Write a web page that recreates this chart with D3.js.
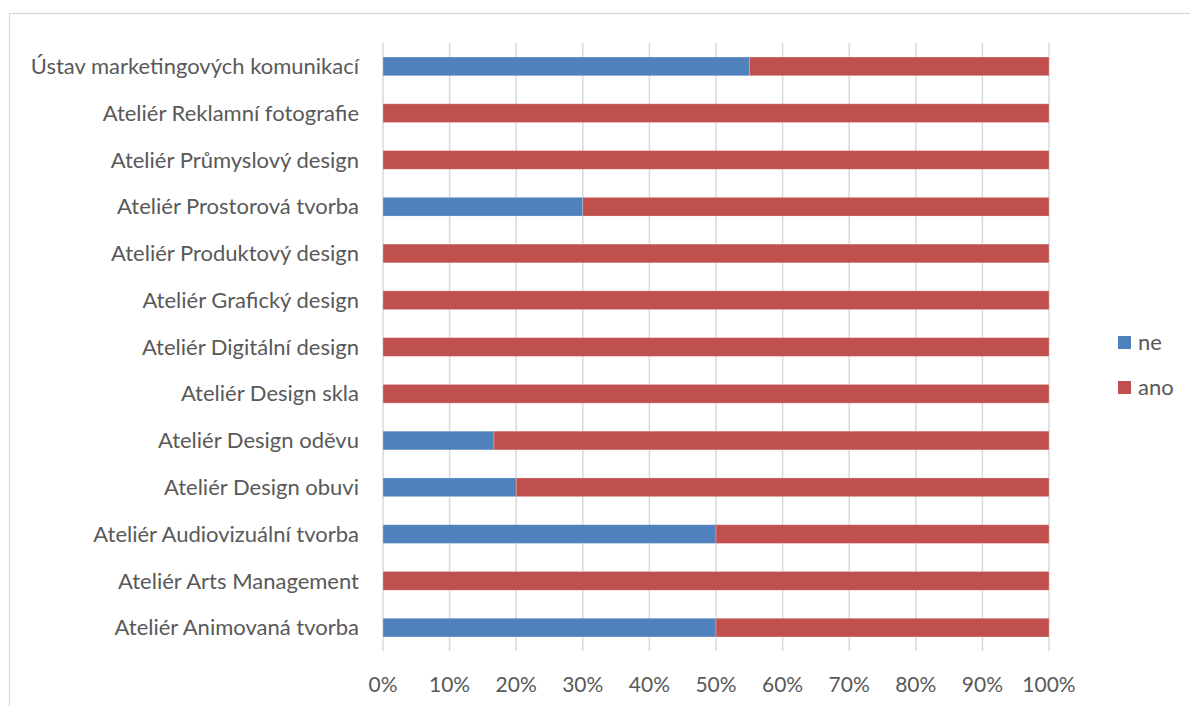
<!DOCTYPE html>
<html>
<head>
<meta charset="utf-8">
<script src="https://cdn.jsdelivr.net/npm/d3@7"></script>
<style>
  body { margin: 0; background: #fff; }
  text { font-family: Lato, "Open Sans", sans-serif; fill: #595959; }
</style>
</head>
<body>
<svg id="chart" width="1190" height="706"></svg>
<script>
// categories, top to bottom
const categories = [
    "Ústav marketingových komunikací",
    "Ateliér Reklamní fotografie",
    "Ateliér Průmyslový design",
    "Ateliér Prostorová tvorba",
    "Ateliér Produktový design",
    "Ateliér Grafický design",
    "Ateliér Digitální design",
    "Ateliér Design skla",
    "Ateliér Design oděvu",
    "Ateliér Design obuvi",
    "Ateliér Audiovizuální tvorba",
    "Ateliér Arts Management",
    "Ateliér Animovaná tvorba"
];
// share of answers (fractions)
const ne  = [0.55, 0, 0, 0.30, 0, 0, 0, 0, 1/6, 0.20, 0.50, 0, 0.50];
const ano = [0.45, 1, 1, 0.70, 1, 1, 1, 1, 5/6, 0.80, 0.50, 1, 0.50];
const seriesNames = ["ne", "ano"];
const seriesColors = ["#4F81BD", "#C0504D"];
const xTicks = [0, 0.1, 0.2, 0.3, 0.4, 0.5, 0.6, 0.7, 0.8, 0.9, 1];

const svg = d3.select("#chart");

// outer chart frame (clipped at right/bottom like the reference)
svg.append("rect")
    .attr("x", 9.5).attr("y", 13.5)
    .attr("width", 1200).attr("height", 720)
    .attr("fill", "none").attr("stroke", "#D9D9D9").attr("stroke-width", 1.3);

const plot = {left: 383, right: 1049, top: 43, bottom: 651};

const x = d3.scaleLinear().domain([0, 1]).range([plot.left, plot.right]);
const y = d3.scaleBand().domain(categories).range([plot.top, plot.bottom]).paddingInner(0.6).paddingOuter(0.3);

// gridlines
svg.append("g").selectAll("line").data(xTicks).join("line")
    .attr("x1", d => x(d)).attr("x2", d => x(d))
    .attr("y1", plot.top).attr("y2", plot.bottom)
    .attr("stroke", "#D9D9D9").attr("stroke-width", 1.5);

// stacked bars
const rows = categories.map((c, i) => ({cat: c, ne: ne[i], ano: ano[i]}));
const stack = d3.stack().keys(seriesNames)(rows);

svg.append("g").selectAll("g").data(stack).join("g")
    .attr("fill", (d, i) => seriesColors[i])
    .selectAll("rect").data(d => d.filter(s => s[1] - s[0] > 0)).join("rect")
    .attr("x", d => x(d[0]))
    .attr("y", d => y(d.data.cat))
    .attr("width", d => x(d[1]) - x(d[0]))
    .attr("height", y.bandwidth())
    .attr("stroke", "#fff").attr("stroke-opacity", 0.3).attr("stroke-width", 0.8);

// category labels
svg.append("g").selectAll("text").data(categories).join("text")
    .attr("x", 359)
    .attr("y", d => y(d) + y.bandwidth() / 2)
    .attr("dy", "0.35em")
    .attr("text-anchor", "end")
    .attr("font-size", 22)
    .text(d => d);

// x axis labels
svg.append("g").selectAll("text").data(xTicks).join("text")
    .attr("x", d => x(d))
    .attr("y", 685)
    .attr("dy", "0.35em")
    .attr("text-anchor", "middle")
    .attr("font-size", 21)
    .text(d => d3.format(".0%")(d));

// legend
const legend = svg.append("g").selectAll("g").data(seriesNames).join("g")
    .attr("transform", (d, i) => `translate(1118, ${342 + i * 45})`);
legend.append("rect")
    .attr("x", 0).attr("y", -6).attr("width", 13).attr("height", 13)
    .attr("fill", (d, i) => seriesColors[i]);
legend.append("text")
    .attr("x", 20).attr("y", 0).attr("dy", "0.35em")
    .attr("font-size", 22)
    .text(d => d);
</script>
</body>
</html>
